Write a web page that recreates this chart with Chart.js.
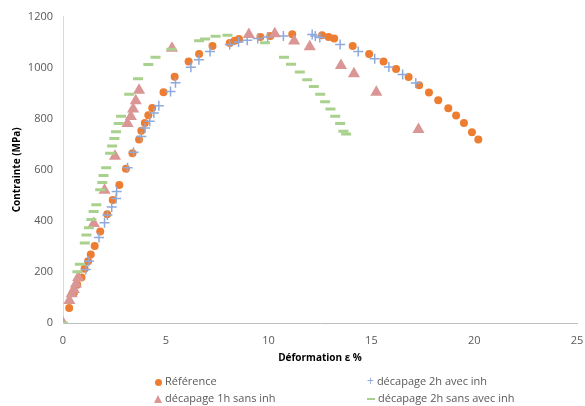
<!DOCTYPE html>
<html>
<head>
<meta charset="utf-8">
<script src="https://cdn.jsdelivr.net/npm/chart.js@4"></script>
<style>
  html, body { margin: 0; padding: 0; background: #fff; }
  #wrap { position: relative; width: 585px; height: 406px; }
  #legend { position: absolute; left: 0; top: 372px; width: 585px; font: 11px 'Open Sans', sans-serif; color: #595959; }
  .item { position: absolute; white-space: nowrap; line-height: 14px; }
  .mk { display: inline-block; vertical-align: middle; margin-right: 3px; }
</style>
</head>
<body>
<div id="wrap">
  <canvas id="chart" width="585" height="406"></canvas>
  <div id="legend">
    <div class="item" style="left:155px;top:2px"><span class="mk" style="width:7px;height:7px;border-radius:50%;background:#ED7D31"></span>Référence</div>
    <div class="item" style="left:367px;top:2px"><span class="mk" style="color:#8EA9DB;font-size:12px;margin-top:-2px">+</span>décapage 2h avec inh</div>
    <div class="item" style="left:154px;top:19px"><span class="mk" style="width:0;height:0;border-left:4px solid transparent;border-right:4px solid transparent;border-bottom:8px solid #D99694"></span>décapage 1h sans inh</div>
    <div class="item" style="left:367px;top:19px"><span class="mk" style="width:8px;height:2px;background:#A9D18E"></span>décapage 2h sans avec inh</div>
  </div>
</div>
<script>
// Référence
var refX = [0.30, 0.53, 0.69, 0.90, 1.05, 1.22, 1.35, 1.54, 1.81, 2.15, 2.42, 2.74, 3.06, 3.38, 3.70, 3.81, 3.98, 4.15, 4.34, 4.89, 5.43, 6.11, 6.62, 7.27, 8.11, 8.35, 8.56, 9.6, 10.08, 11.15, 12.6, 12.92, 13.19, 14.09, 14.89, 15.59, 16.2, 16.81, 17.32, 17.8, 18.25, 18.74, 19.12, 19.5, 19.89, 20.2];
var refY = [59, 118, 150, 178, 212, 242, 268, 302, 358, 426, 482, 540, 604, 665, 719, 753, 783, 814, 842, 904, 964, 1024, 1054, 1085, 1097, 1105, 1112, 1120, 1124, 1131, 1127, 1120, 1114, 1085, 1054, 1024, 995, 963, 931, 903, 872, 841, 813, 783, 747, 719];

// décapage 2h avec inh
var avecX = [1.11, 1.26, 1.75, 2.02, 2.16, 2.37, 2.58, 2.61, 3.14, 3.43, 3.81, 3.99, 4.22, 4.42, 4.66, 5.23, 5.47, 6.22, 6.61, 7.15, 8.11, 8.54, 8.96, 9.47, 9.95, 10.72, 12.12, 12.27, 12.49, 13.48, 14.36, 15.16, 15.85, 16.52, 17.16];
var avecY = [210, 242, 335, 393, 423, 454, 488, 515, 608, 669, 730, 764, 790, 822, 851, 907, 941, 1002, 1031, 1063, 1091, 1101, 1107, 1114, 1120, 1124, 1130, 1124, 1118, 1091, 1063, 1035, 1003, 973, 940];

// décapage 1h sans inh
var sans1hX = [0, 0.31, 0.42, 0.53, 0.63, 0.74, 1.5, 2.02, 2.53, 3.14, 3.30, 3.41, 3.54, 3.70, 5.3, 9.04, 10.3, 11.24, 12.0, 13.52, 14.15, 15.24, 17.29];
var sans1hY = [0, 88, 115, 131, 153, 178, 390, 520, 653, 781, 809, 838, 870, 912, 1076, 1130, 1133, 1104, 1082, 1008, 976, 904, 758];

// décapage 2h sans avec inh
var sans2hX = [0, 0.70, 0.82, 1.06, 1.14, 1.26, 1.38, 1.49, 1.62, 1.81, 1.91, 1.97, 2.10, 2.29, 2.39, 2.5, 2.58, 2.71, 2.82, 3.22, 3.65, 4.15, 4.50, 5.27, 6.62, 6.91, 7.42, 8.0, 9.82, 10.75, 11.09, 11.52, 11.88, 12.20, 12.51, 12.75, 13.01, 13.24, 13.48, 13.64, 13.77];
var sans2hY = [0, 201, 230, 313, 345, 373, 405, 437, 463, 522, 550, 578, 608, 665, 693, 723, 749, 781, 810, 896, 957, 1012, 1041, 1072, 1105, 1112, 1123, 1127, 1098, 1041, 1013, 983, 953, 926, 896, 867, 838, 810, 781, 751, 740];

var xTicks = [0, 5, 10, 15, 20, 25];
var yTicks = [0, 200, 400, 600, 800, 1000, 1200];

function pts(xs, ys) {
    return xs.map(function (x, i) { return { x: x, y: ys[i] }; });
}

var tickFont = { family: "'Open Sans', sans-serif", size: 11 };
var titleFont = { family: "'Open Sans', sans-serif", size: 10, weight: 'bold' };

new Chart(document.getElementById('chart').getContext('2d'), {
    type: 'scatter',
    data: {
        datasets: [{
            label: 'Référence',
            data: pts(refX, refY),
            pointStyle: 'circle',
            pointRadius: 4,
            backgroundColor: '#ED7D31',
            borderColor: '#ED7D31',
            borderWidth: 0,
            order: 4
        }, {
            label: 'décapage 2h avec inh',
            data: pts(avecX, avecY),
            pointStyle: 'cross',
            pointRadius: 5,
            borderColor: '#8EA9DB',
            borderWidth: 1.5,
            order: 3
        }, {
            label: 'décapage 1h sans inh',
            data: pts(sans1hX, sans1hY),
            pointStyle: 'triangle',
            pointRadius: 7,
            backgroundColor: '#D99694',
            borderColor: '#D99694',
            borderWidth: 0,
            order: 2
        }, {
            label: 'décapage 2h sans avec inh',
            data: pts(sans2hX, sans2hY),
            pointStyle: 'line',
            pointRadius: 5,
            borderColor: '#A9D18E',
            borderWidth: 3,
            order: 1
        }]
    },
    options: {
        responsive: false,
        animation: false,
        layout: { padding: { left: 0, right: 2, top: 11, bottom: 38 } },
        plugins: { legend: { display: false }, tooltip: { enabled: false } },
        scales: {
            x: {
                type: 'linear',
                min: 0, max: 25,
                afterBuildTicks: function (s) { s.ticks = xTicks.map(function (v) { return { value: v }; }); },
                afterFit: function (s) { s.height = 45; s.paddingRight = 0; s.paddingLeft = 0; },
                grid: { color: 'transparent', drawTicks: false },
                border: { color: '#BFBFBF' },
                ticks: { color: '#595959', font: tickFont, padding: 11, maxRotation: 0, callback: function (v) { return String(v); } },
                title: { display: true, text: 'Déformation ε %', color: '#000', font: titleFont, padding: { top: 4, bottom: 4 } }
            },
            y: {
                min: 0, max: 1200,
                afterBuildTicks: function (s) { s.ticks = yTicks.map(function (v) { return { value: v }; }); },
                afterFit: function (s) { s.width = 63; },
                grid: { color: 'transparent', drawTicks: false },
                border: { color: '#D9D9D9' },
                ticks: { color: '#595959', font: tickFont, padding: 10, callback: function (v) { return String(v); } },
                title: { display: true, text: 'Contrainte (MPa)', color: '#000', font: titleFont, padding: { top: 11, bottom: 0 } }
            }
        }
    }
});
</script>
</body>
</html>
